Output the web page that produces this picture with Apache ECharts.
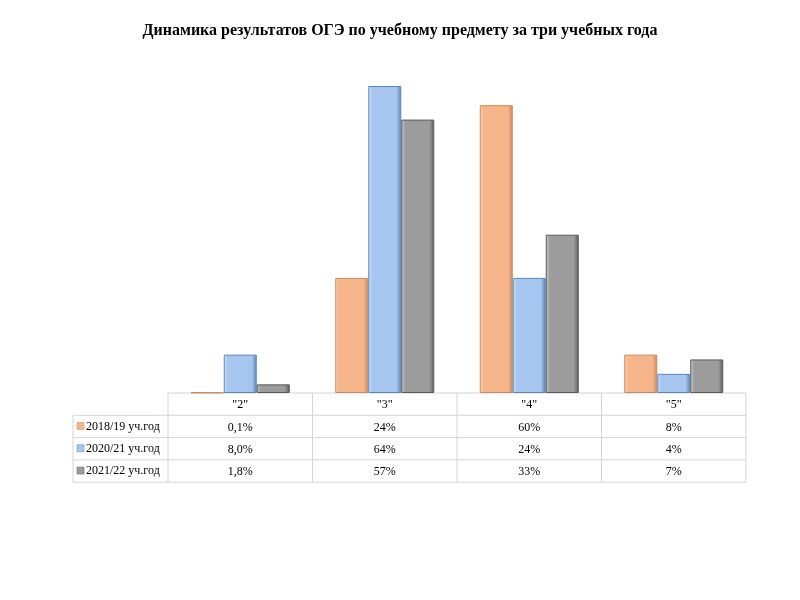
<!DOCTYPE html>
<html><head><meta charset="utf-8">
<script src="https://cdn.jsdelivr.net/npm/echarts@6/dist/echarts.min.js"></script>
<style>html,body{margin:0;background:#fff}#c{width:800px;height:600px}</style>
</head><body><div id="c"></div>
<script>
var categories = ['"2"', '"3"', '"4"', '"5"'];
var seriesNames = ['2018/19 уч.год', '2020/21 уч.год', '2021/22 уч.год'];
var values = [
  [0.1, 24, 60, 8],
  [8.0, 64, 24, 4],
  [1.8, 57, 33, 7]
];
var tableText = [
  ['0,1%', '24%', '60%', '8%'],
  ['8,0%', '64%', '24%', '4%'],
  ['1,8%', '57%', '33%', '7%']
];
var colors = [
  ['#f6b58a', '#fcd2b4', '#c98a5c'],
  ['#a6c6ef', '#d2e3f8', '#5b86bd'],
  ['#9c9c9c', '#cfcfcf', '#5a5a5a']
];

var font = '"Liberation Serif", "Times New Roman", serif';
var gl = 168, gr = 746, base = 393, rowH = 22.3;

var graphics = [];
function line(x1, y1, x2, y2) {
  graphics.push({type: 'line', shape: {x1: x1, y1: y1, x2: x2, y2: y2},
    style: {stroke: '#d4d4d4', lineWidth: 1}, silent: true});
}
// table grid
line(gl, base, gr, base);
for (var r = 1; r <= 4; r++) line(73, base + r * rowH, gr, base + r * rowH);
line(73, base + rowH, 73, base + 4 * rowH);
for (var c = 0; c <= 4; c++) {
  var x = gl + c * (gr - gl) / 4;
  line(x, base, x, base + 4 * rowH);
}
seriesNames.forEach(function (n, i) {
  var y = base + (i + 1.5) * rowH;
  graphics.push({type: 'rect', shape: {x: 77, y: y - 4, width: 7, height: 7},
    style: {fill: colors[i][0], stroke: colors[i][2], lineWidth: 0.5}});
  graphics.push({type: 'text', x: 86, y: y, style: {text: n, font: '12px ' + font,
    fill: '#000', textVerticalAlign: 'middle'}});
});

var series = values.map(function (v, i) {
  return {
    name: seriesNames[i], type: 'bar', data: v, barWidth: 33, barGap: '0%',
    itemStyle: {
      color: new echarts.graphic.LinearGradient(0, 0, 1, 0, [
        {offset: 0, color: colors[i][1]}, {offset: 0.12, color: colors[i][0]},
        {offset: 0.85, color: colors[i][0]}, {offset: 1, color: colors[i][2]}
      ]),
      borderColor: colors[i][2], borderWidth: 1
    }
  };
});

var chart = echarts.init(document.getElementById('c'));
chart.setOption({
  animation: false,
  title: {text: 'Динамика результатов ОГЭ по учебному предмету за три учебных года',
    left: 'center', top: 18,
    textStyle: {fontFamily: font, fontSize: 16, fontWeight: 'bold', color: '#000'}},
  grid: {left: gl, right: 800 - gr, top: 86, bottom: 600 - base},
  xAxis: {
    type: 'category', data: categories,
    axisLine: {show: false}, axisTick: {show: false},
    axisLabel: {
      margin: 1, fontFamily: font, fontSize: 12, color: '#000', lineHeight: rowH,
      formatter: function (val, idx) {
        return [val].concat(tableText.map(function (row) { return row[idx]; })).join('\n');
      }
    }
  },
  yAxis: {type: 'value', min: 0, max: 64, show: false},
  series: series,
  graphic: graphics
});
</script></body></html>
